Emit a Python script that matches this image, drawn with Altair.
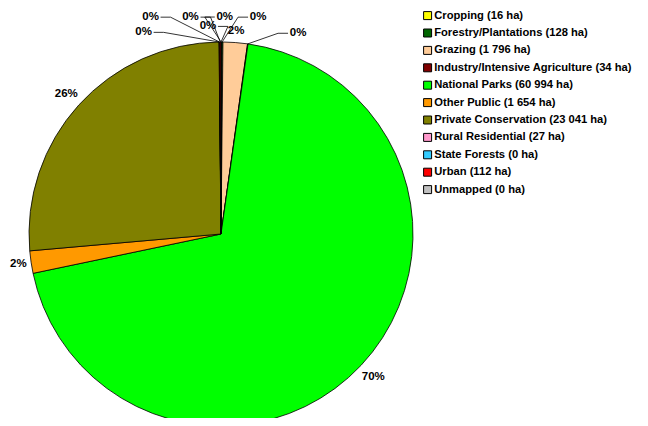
import math
import altair as alt
import pandas as pd

# ---- data -------------------------------------------------------------
categories = ["Cropping", "Forestry/Plantations", "Grazing",
              "Industry/Intensive Agriculture", "National Parks", "Other Public",
              "Private Conservation", "Rural Residential", "State Forests",
              "Urban", "Unmapped"]
hectares = [16, 128, 1796, 34, 60994, 1654, 23041, 27, 0, 112, 0]
# percentage labels as printed on the chart
percent_labels = ["0%", "0%", "2%", "0%", "70%", "2%", "26%", "0%", "0%", "0%", "0%"]
colors = ["#FFFF00", "#006600", "#FFCC99", "#800000", "#00FF00", "#FF9900",
          "#808000", "#FF99CC", "#33CCFF", "#FF0000", "#C0C0C0"]

# ---- layout -----------------------------------------------------------
W, H = 632, 410
CX, CY, R = 213, 226, 192
FONT = "Liberation Sans"
FS = 11.5
LFS = 11.2
# placement (angle deg, radius offset) of leader-line labels for thin slices
left_place = [(356.4, 16), (352, 27), (342, 36), (339, 24)]
right_place = [(1, 25), (9.7, 28), (21, 23)]

total = sum(hectares)
legend_labels = [f"{c} ({v:,} ha)".replace(",", " ") for c, v in zip(categories, hectares)]

slices = pd.DataFrame({"idx": range(len(categories)), "cat": legend_labels, "value": hectares})

lab_rows, line_rows = [], []
cum = 0
left_small, right_small = [], []
for i, v in enumerate(hectares):
    a0 = cum / total * 360
    cum += v
    a1 = cum / total * 360
    mid = (a0 + a1) / 2
    pct = v / total * 100
    text = percent_labels[i]
    if pct >= 1:
        s, c = math.sin(math.radians(mid)), math.cos(math.radians(mid))
        w = len(text) * 0.62 * FS
        rr = R + 5 + abs(s) * w / 2 + abs(c) * FS / 2
        lab_rows.append({"x": CX + rr * s, "y": CY - rr * c, "text": text})
    else:
        (left_small if mid > 180 else right_small).append((mid, text))


def add_leader(mid, ang, rr, text, side):
    lx = CX + rr * math.sin(math.radians(ang))
    ly = CY - rr * math.cos(math.radians(ang))
    lab_rows.append({"x": lx, "y": ly, "text": text})
    px = CX + R * math.sin(math.radians(mid))
    py = CY - R * math.cos(math.radians(mid))
    ex = lx + side * 10
    elb = lx + side * 20
    line_rows.append({"x": ex, "y": ly, "x2": elb, "y2": ly})
    line_rows.append({"x": elb, "y": ly, "x2": px, "y2": py})


left_small.sort(key=lambda t: -t[0])
for k, (mid, text) in enumerate(left_small):
    ang, off = left_place[k]
    add_leader(mid, ang, R + off, text, +1)
right_small.sort(key=lambda t: t[0])
for k, (mid, text) in enumerate(right_small):
    ang, off = right_place[k]
    add_leader(mid, ang, R + off, text, -1)

labels_df = pd.DataFrame(lab_rows)
lines_df = pd.DataFrame(line_rows)

xs = alt.Scale(domain=[0, W], nice=False, zero=False)
ys = alt.Scale(domain=[0, H], nice=False, zero=False, reverse=True)

pie = alt.Chart(slices).mark_arc(outerRadius=R, stroke="black", strokeWidth=0.8).encode(
    theta=alt.Theta("value:Q", stack=True),
    order=alt.Order("idx:Q"),
    color=alt.Color("cat:N", sort=legend_labels,
                    scale=alt.Scale(domain=legend_labels, range=colors),
                    legend=alt.Legend(title=None, orient="none", legendX=414, legendY=2,
                                      symbolType="square", symbolSize=64,
                                      symbolStrokeColor="black", symbolStrokeWidth=1,
                                      labelFont=FONT, labelFontSize=LFS, labelFontWeight="bold",
                                      labelColor="black", labelLimit=0, labelOffset=1,
                                      rowPadding=4.4, padding=0)),
    x=alt.value(CX), y=alt.value(CY),
)

rules = alt.Chart(lines_df).mark_rule(color="black", strokeWidth=0.8).encode(
    x=alt.X("x:Q", scale=xs, axis=None), y=alt.Y("y:Q", scale=ys, axis=None),
    x2="x2:Q", y2="y2:Q")

texts = alt.Chart(labels_df).mark_text(font=FONT, fontSize=FS, fontWeight="bold",
                                        color="black").encode(
    x=alt.X("x:Q", scale=xs, axis=None), y=alt.Y("y:Q", scale=ys, axis=None),
    text="text:N")

chart = alt.layer(pie, rules, texts).properties(
    width=W, height=H, autosize=alt.AutoSizeParams(type="none"), padding=0
).configure_view(stroke=None)

chart.save("out.html", embed_options={"renderer": "svg", "actions": False})
